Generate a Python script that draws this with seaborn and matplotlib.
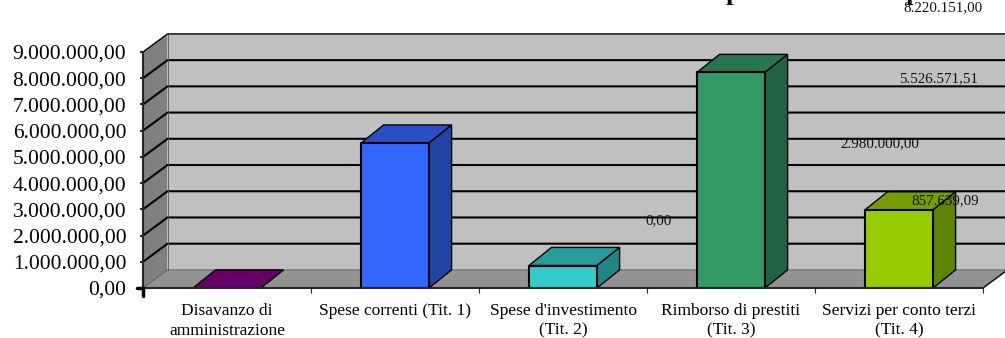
#!/usr/bin/env python3
"""Composizione delle spese: fake-3D bar chart drawn on a seaborn barplot."""

import matplotlib
matplotlib.use("Agg")
import matplotlib.pyplot as plt
import pandas as pd
import seaborn as sns
from matplotlib.patches import Polygon

categories = ["Disavanzo di\namministrazione", "Spese correnti (Tit. 1)",
              "Spese d'investimento\n(Tit. 2)", "Rimborso di prestiti\n(Tit. 3)",
              "Servizi per conto terzi\n(Tit. 4)"]
values = [0.0, 5526571.51, 857639.09, 8220151.00, 2980000.00]
front_colors = ["#660066", "#3366FF", "#33CCCC", "#339966", "#99CC00"]
top_colors = ["#660066", "#294FC4", "#289C9C", "#277650", "#769C00"]
side_colors = ["#4D004D", "#2043A6", "#208585", "#206342", "#5F8500"]
y_ticks = [i * 1000000 for i in range(10)]
y_labels = ["0,00"] + [f"{i}.000.000,00" for i in range(1, 10)]
value_labels = ["0,00", "5.526.571,51", "857.639,09", "8.220.151,00", "2.980.000,00"]

W, H = 1005, 338
DX, DY = 0.146, 690000  # depth of the fake 3D, data units
BAR_W = 0.405

sns.set_theme(style="white")
plt.rcParams["font.family"] = ["Liberation Serif", "DejaVu Serif"]

df = pd.DataFrame({"cat": categories, "val": values})

fig = plt.figure(figsize=(W / 100, H / 100), dpi=100)
ax = fig.add_axes([143 / W, 1 - 288 / H, 840 / W, 236 / H])
sns.barplot(data=df, x="cat", y="val", hue="cat", palette=front_colors, legend=False,
            saturation=1, width=BAR_W, edgecolor="black", linewidth=1.5, ax=ax, zorder=5)
ax.set_xlim(-0.5, 4.5)
ax.set_ylim(0, 9000000)
ax.set_xlabel("")
ax.set_ylabel("")

# walls and floor
x0, x1 = -0.5, 4.5
top = 9000000
ax.add_patch(Polygon([(x0 + DX, DY), (x1 + DX, DY), (x1 + DX, top + DY), (x0 + DX, top + DY)],
                     fc="#C0C0C0", ec="none", clip_on=False, zorder=1))
ax.add_patch(Polygon([(x0, 0), (x0 + DX, DY), (x0 + DX, top + DY), (x0, top)],
                     fc="#808080", ec="none", clip_on=False, zorder=1))
ax.add_patch(Polygon([(x0, 0), (x1, 0), (x1 + DX, DY), (x0 + DX, DY)],
                     fc="#929292", ec="none", clip_on=False, zorder=1))

# gridlines run along the side wall and across the back
for t in y_ticks[1:]:
    lw = 1.0 if t == top else 1.5
    ax.plot([x0, x0 + DX, x1 + DX], [t, t + DY, t + DY], color="black", lw=lw,
            clip_on=False, zorder=2)
ax.plot([x0, x0 + DX, x1 + DX], [0, DY, DY], color="#555555", lw=0.6, clip_on=False, zorder=2)
ax.plot([x0 + DX, x0 + DX], [DY, top + DY], color="#555555", lw=0.6, clip_on=False, zorder=2)
ax.plot([x1, x1 + DX], [0, DY], color="black", lw=1, clip_on=False, zorder=2)

# bar depth
for i, v in enumerate(values):
    l, r = i - BAR_W / 2, i + BAR_W / 2
    ax.add_patch(Polygon([(l, v), (r, v), (r + DX * 0.92, v + DY), (l + DX * 0.92, v + DY)],
                         fc=top_colors[i], ec="black", lw=1.0, clip_on=False, zorder=4))
    if v > 0:
        ax.add_patch(Polygon([(r, 0), (r + DX * 0.92, DY), (r + DX * 0.92, v + DY), (r, v)],
                             fc=side_colors[i], ec="black", lw=1.0, clip_on=False, zorder=4))

sns.despine(ax=ax, top=True, right=True)
ax.spines["left"].set_linewidth(1.5)
ax.spines["bottom"].set_linewidth(1.5)
ax.spines["left"].set_zorder(3)
ax.spines["bottom"].set_zorder(6)
ax.set_yticks(y_ticks, y_labels, fontsize=15.5, color="black")
ax.tick_params(axis="y", length=2, width=1.5, pad=10, left=True)
ax.set_xticks([i - 0.5 for i in range(6)], [""] * 6)
ax.tick_params(axis="x", length=3.5, width=0.8, bottom=True)
ax.set_axisbelow(False)
# heavier tick at the origin
ax.plot([-0.5, -0.5], [0, -320000], color="black", lw=2.5, clip_on=False, zorder=7)
ax.plot([-0.535, -0.5], [0, 0], color="black", lw=2.5, clip_on=False, zorder=7)

# category labels sit between the ticks
for i, c in enumerate(categories):
    ax.text(i, -0.065, c, transform=ax.get_xaxis_transform(), ha="center", va="top",
            fontsize=12.5, linespacing=1.28, color="black")

# data labels float away from their bars, as in the original
label_pos = [(658, 221), (939, 79), (945, 201), (943, 8), (880, 144)]
for txt, (px, py) in zip(value_labels, label_pos):
    fig.text(px / W, 1 - py / H, txt, ha="center", va="center", fontsize=10.8, color="#111111", zorder=10)

# title is cropped by the top edge in the reference
fig.text(672 / W, 1.0, "Composizione delle spese", ha="left", va="baseline",
         fontsize=19, fontweight="bold", color="black")

fig.savefig("out.png", dpi=100, facecolor="white")
